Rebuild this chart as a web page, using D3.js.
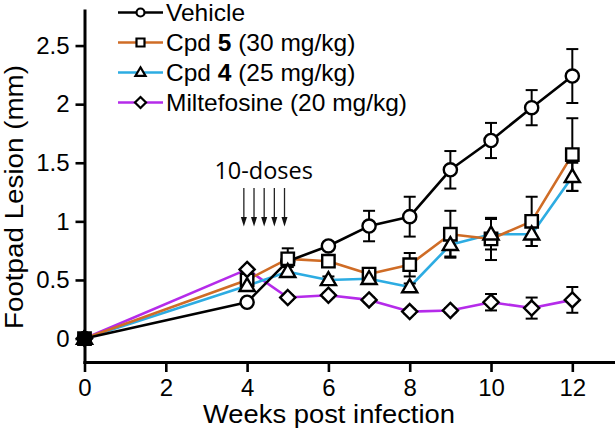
<!DOCTYPE html>
<html>
<head>
<meta charset="utf-8">
<script src="https://cdn.jsdelivr.net/npm/d3@7"></script>
<style>
  html, body { margin: 0; padding: 0; background: #fff; }
  svg { display: block; font-family: "Liberation Sans", Arial, sans-serif; }
</style>
</head>
<body>
<script>
// ---------------- data ----------------
const weeks = [0, 4, 5, 6, 7, 8, 9, 10, 11, 12];

const vehicle    = [0, 0.31, 0.66, 0.79, 0.96, 1.04, 1.44, 1.69, 1.97, 2.24];
const vehicleErr = [0, 0, 0.11, 0.03, 0.13, 0.17, 0.16, 0.15, 0.15, 0.23];

const cpd5    = [0, 0.50, 0.68, 0.66, 0.55, 0.63, 0.89, 0.85, 1.00, 1.57];
const cpd5Err = [0, 0.02, 0.04, 0.04, 0.03, 0.10, 0.20, 0.18, 0.21, 0.31];

const cpd4    = [0, 0.45, 0.57, 0.50, 0.51, 0.44, 0.80, 0.89, 0.89, 1.38];
const cpd4Err = [0, 0.02, 0.04, 0.03, 0.02, 0.03, 0.10, 0.13, 0.10, 0.12];

const milt    = [0, 0.59, 0.35, 0.37, 0.33, 0.23, 0.24, 0.31, 0.26, 0.33];
const miltErr = [0, 0.02, 0.02, 0.02, 0.02, 0.02, 0.02, 0.07, 0.09, 0.11];

const seriesNames = ["Vehicle", "Cpd 5 (30 mg/kg)", "Cpd 4 (25 mg/kg)", "Miltefosine (20 mg/kg)"];
const doseWeeks = [3.92, 4.17, 4.42, 4.67, 4.92];
const doseLabel = "10-doses";

const xTicks = [0, 2, 4, 6, 8, 10, 12];
const yTicks = [0, 0.5, 1, 1.5, 2, 2.5];
const yTickLabels = ["0", "0.5", "1", "1.5", "2", "2.5"];
const xTitle = "Weeks post infection";
const yTitle = "Footpad Lesion (mm)";

// ---------------- styles ----------------
const W = 615, H = 432;
const series = [
  { name: seriesNames[0], plain: "Vehicle", bold: "", rest: "", values: vehicle, err: vehicleErr, color: "#000000", shape: "circle" },
  { name: seriesNames[1], plain: "Cpd ", bold: "5", rest: " (30 mg/kg)", values: cpd5, err: cpd5Err, color: "#CF6C26", shape: "square" },
  { name: seriesNames[2], plain: "Cpd ", bold: "4", rest: " (25 mg/kg)", values: cpd4, err: cpd4Err, color: "#2DACE2", shape: "triangle" },
  { name: seriesNames[3], plain: "Miltefosine (20 mg/kg)", bold: "", rest: "", values: milt, err: miltErr, color: "#B52BEA", shape: "diamond" }
];

function shapePath(shape, s) {
  if (shape === "circle") {
    return `M${s},0A${s},${s} 0 1,1 ${-s},0A${s},${s} 0 1,1 ${s},0Z`;
  } else if (shape === "square") {
    return `M${-s},${-s}H${s}V${s}H${-s}Z`;
  } else if (shape === "triangle") {
    const h = s * 1.8;
    return `M0,${-h * 0.6}L${s * 1.05},${h * 0.4}L${-s * 1.05},${h * 0.4}Z`;
  } else {
    const d = s * 1.2;
    return `M0,${-d}L${d},0L0,${d}L${-d},0Z`;
  }
}
const markerSize = { circle: 6.6, square: 6.2, triangle: 7.2, diamond: 6.3 };
const legendSize = { circle: 4, square: 4, triangle: 4.8, diamond: 4.6 };

const svg = d3.select("body").append("svg").attr("width", W).attr("height", H);

const x = d3.scaleLinear().domain([0, 13.05]).range([84.5, 615]);
const y = d3.scaleLinear().domain([-0.2, 2.8]).range([362, 10.4]);

// ---------------- axes ----------------
const yAxis = svg.append("g")
  .attr("transform", "translate(84.5,0)")
  .call(d3.axisLeft(y).tickValues(yTicks).tickFormat((d, i) => yTickLabels[i])
    .tickSize(9).tickPadding(6).tickSizeOuter(0));
const xAxis = svg.append("g")
  .attr("transform", "translate(0,362)")
  .call(d3.axisBottom(x).tickValues(xTicks).tickFormat(d3.format("d"))
    .tickSize(10).tickPadding(7).tickSizeOuter(0));

[yAxis, xAxis].forEach(g => {
  g.select(".domain").attr("stroke", "#000").attr("stroke-width", 3).attr("stroke-linecap", "square");
  g.selectAll(".tick line").attr("stroke", "#000").attr("stroke-width", 2.6);
  g.selectAll(".tick text").attr("fill", "#000").attr("font-size", 24)
    .attr("font-family", "Liberation Sans, Arial, sans-serif");
});

// axis titles
svg.append("text")
  .attr("x", 329).attr("y", 423)
  .attr("text-anchor", "middle")
  .attr("font-size", 26.5)
  .attr("textLength", 252).attr("lengthAdjust", "spacingAndGlyphs")
  .text(xTitle);

svg.append("text")
  .attr("transform", "translate(23,197) rotate(-90)")
  .attr("text-anchor", "middle")
  .attr("font-size", 26.5)
  .attr("textLength", 264).attr("lengthAdjust", "spacingAndGlyphs")
  .text(yTitle);

// ---------------- dosing arrows ----------------
svg.append("text")
  .attr("x", x(d3.mean(doseWeeks)) - 0.5).attr("y", 179)
  .attr("text-anchor", "middle")
  .attr("font-family", "Open Sans, sans-serif")
  .attr("font-size", 23.5)
  .text(doseLabel);

const arrows = svg.append("g");
doseWeeks.forEach(w => {
  const ax = x(w);
  arrows.append("line").attr("x1", ax).attr("x2", ax).attr("y1", 188).attr("y2", 219)
    .attr("stroke", "#222").attr("stroke-width", 1.3);
  arrows.append("path").attr("d", `M${ax - 3},${217}L${ax + 3},${217}L${ax},${226.5}Z`).attr("fill", "#111");
});

// ---------------- series ----------------
const line = d3.line().x(d => x(d.w)).y(d => y(d.v));
const drawOrder = [3, 2, 1, 0];
const dataOf = s => weeks.map((w, i) => ({ w, v: s.values[i], e: s.err[i] }));

drawOrder.forEach(k => {
  const s = series[k];
  svg.append("path").datum(dataOf(s))
    .attr("d", line).attr("fill", "none")
    .attr("stroke", s.color).attr("stroke-width", 2.6).attr("stroke-linejoin", "round");
});

series.forEach(s => {
  const g = svg.append("g").attr("stroke", "#000").attr("stroke-width", 2);
  dataOf(s).filter(d => d.e > 0).forEach(d => {
    const cx = x(d.w), y1 = y(d.v + d.e), y2 = y(d.v - d.e);
    g.append("line").attr("x1", cx).attr("x2", cx).attr("y1", y1).attr("y2", y2);
    g.append("line").attr("x1", cx - 6).attr("x2", cx + 6).attr("y1", y1).attr("y2", y1);
    g.append("line").attr("x1", cx - 6).attr("x2", cx + 6).attr("y1", y2).attr("y2", y2);
  });
});

[0, 1, 2, 3].forEach(k => {
  const s = series[k];
  svg.append("g").selectAll("path").data(dataOf(s)).join("path")
    .attr("transform", d => `translate(${x(d.w)},${y(d.v)})`)
    .attr("d", shapePath(s.shape, markerSize[s.shape]))
    .attr("fill", d => d.w === 0 ? "#000" : "#fff")
    .attr("stroke", "#000").attr("stroke-width", 2.4);
});

// ---------------- legend ----------------
const legend = svg.append("g");
series.forEach((s, i) => {
  const ry = 12.5 + i * 30;
  legend.append("line").attr("x1", 118).attr("x2", 163).attr("y1", ry).attr("y2", ry)
    .attr("stroke", s.color).attr("stroke-width", 2.6);
  legend.append("path").attr("transform", `translate(140.5,${ry})`)
    .attr("d", shapePath(s.shape, legendSize[s.shape]))
    .attr("fill", "#fff").attr("stroke", "#000").attr("stroke-width", 2.2);
  const t = legend.append("text").attr("x", 166).attr("y", ry + 8).attr("font-size", 24.5);
  t.append("tspan").text(s.plain);
  if (s.bold) t.append("tspan").attr("font-weight", "bold").text(s.bold);
  if (s.rest) t.append("tspan").text(s.rest);
});
</script>
</body>
</html>
